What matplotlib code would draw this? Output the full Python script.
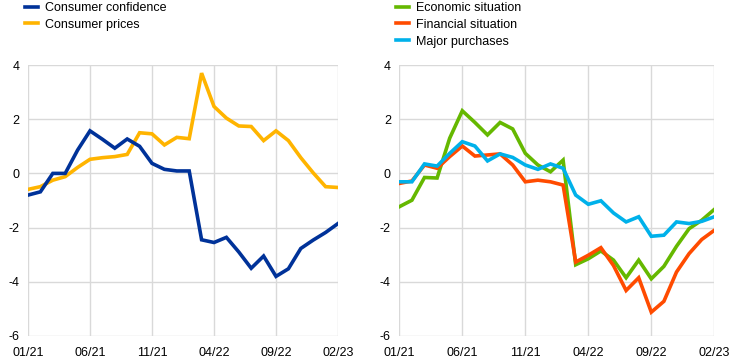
import matplotlib
matplotlib.use("Agg")
import matplotlib.pyplot as plt
from matplotlib.lines import Line2D

plt.rcParams['font.family'] = ['Liberation Sans', 'DejaVu Sans']

months = ["01/21","02/21","03/21","04/21","05/21","06/21","07/21","08/21","09/21","10/21",
          "11/21","12/21","01/22","02/22","03/22","04/22","05/22","06/22","07/22","08/22",
          "09/22","10/22","11/22","12/22","01/23","02/23"]
tick_labels = ["01/21", "06/21", "11/21", "04/22", "09/22", "02/23"]

consumer_confidence = [-0.8, -0.68, 0.0, 0.0, 0.86, 1.57, 1.26, 0.93, 1.27, 1.0,
                       0.37, 0.15, 0.09, 0.09, -2.45, -2.55, -2.36, -2.9, -3.5, -3.05,
                       -3.8, -3.52, -2.77, -2.46, -2.18, -1.85]
consumer_prices = [-0.59, -0.49, -0.25, -0.12, 0.22, 0.52, 0.58, 0.62, 0.7, 1.5,
                   1.46, 1.05, 1.33, 1.28, 3.7, 2.47, 2.04, 1.75, 1.73, 1.21,
                   1.57, 1.21, 0.58, 0.02, -0.49, -0.52]
economic_situation = [-1.23, -0.99, -0.15, -0.17, 1.3, 2.31, 1.88, 1.42, 1.88, 1.64,
                      0.74, 0.31, 0.06, 0.49, -3.37, -3.15, -2.86, -3.2, -3.85, -3.2,
                      -3.89, -3.43, -2.69, -2.04, -1.73, -1.33]
financial_situation = [-0.37, -0.28, 0.31, 0.19, 0.62, 1.01, 0.64, 0.68, 0.72, 0.31,
                       -0.31, -0.25, -0.31, -0.43, -3.27, -3.02, -2.74, -3.4, -4.32, -3.85,
                       -5.12, -4.72, -3.64, -2.96, -2.44, -2.1]
major_purchases = [-0.31, -0.31, 0.35, 0.27, 0.74, 1.17, 1.01, 0.46, 0.72, 0.59,
                   0.31, 0.15, 0.35, 0.19, -0.8, -1.14, -1.01, -1.46, -1.79, -1.6,
                   -2.32, -2.28, -1.79, -1.85, -1.77, -1.6]

BLUE = "#003299"
YELLOW = "#FFB400"
GREEN = "#65B800"
ORANGE = "#FF4B00"
CYAN = "#00B1EA"
GRID = "#d9d9d9"

fig = plt.figure(figsize=(7.44, 3.63), dpi=100)
ax1 = fig.add_axes([28/744, 1-336/363, 310/744, 271/363])
ax2 = fig.add_axes([399.3/744, 1-336/363, 315/744, 271/363])

x = list(range(len(months)))
tick_pos = [months.index(t) for t in tick_labels]

def style(ax):
    ax.set_xlim(0, len(months)-1)
    ax.set_ylim(-6, 4)
    ax.set_yticks([-6, -4, -2, 0, 2, 4])
    ax.set_yticklabels(["-6", "-4", "-2", "0", "2", "4"])
    ax.set_xticks(tick_pos)
    ax.set_xticklabels(tick_labels)
    ax.grid(True, color=GRID, linewidth=1.0)
    ax.set_axisbelow(True)
    for s in ax.spines.values():
        s.set_visible(False)
    ax.tick_params(length=0, labelsize=9, colors="black", pad=6)
    ax.tick_params(axis='x', pad=8)

style(ax1)
style(ax2)

lw = 2.6
ax1.plot(x, consumer_prices, color=YELLOW, lw=lw, solid_joinstyle='miter')
ax1.plot(x, consumer_confidence, color=BLUE, lw=lw, solid_joinstyle='miter')
ax2.plot(x, economic_situation, color=GREEN, lw=lw, solid_joinstyle='miter')
ax2.plot(x, financial_situation, color=ORANGE, lw=lw, solid_joinstyle='miter')
ax2.plot(x, major_purchases, color=CYAN, lw=lw, solid_joinstyle='miter')

def leg(handles, labels, anchor):
    l = fig.legend(handles, labels, loc='upper left', bbox_to_anchor=anchor,
                   frameon=False, fontsize=9, handlelength=1.05, handletextpad=0.56,
                   labelspacing=0.38, borderaxespad=0, borderpad=0)
    return l

h1 = [Line2D([0], [0], color=BLUE, lw=2.6), Line2D([0], [0], color=YELLOW, lw=2.6)]
leg(h1, ["Consumer confidence", "Consumer prices"], (25/744, 1-2/363))
h2 = [Line2D([0], [0], color=GREEN, lw=2.6), Line2D([0], [0], color=ORANGE, lw=2.6),
      Line2D([0], [0], color=CYAN, lw=2.6)]
leg(h2, ["Economic situation", "Financial situation", "Major purchases"], (396/744, 1-2/363))

fig.savefig("out.png", dpi=100)
